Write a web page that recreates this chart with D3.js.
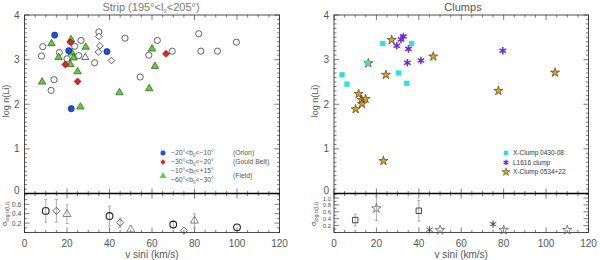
<!DOCTYPE html>
<html>
<head>
<meta charset="utf-8">
<script src="https://cdn.jsdelivr.net/npm/d3@7"></script>
<style>
  body { margin: 0; background: #fff; }
  svg { display: block; font-family: "Liberation Sans", Arial, sans-serif; }
</style>
</head>
<body>
<script>
// x axis ticks shared by all panels
const xTicks = [0, 20, 40, 60, 80, 100, 120];
const yMainTicks = [0, 1, 2, 3, 4];
const yLowTicksLeft = [0.2, 0.4, 0.6];
const yLowTicksRight = [0.2, 0.4, 0.6, 0.8, 1.0];

// ---- left panel: strip ----
const openCircV = [8.6, 8.0, 16.4, 23.6, 26.6, 25.5, 20, 13.9, 12.5, 33, 35, 47.3, 54.4, 58.5, 62.5, 69.5, 82, 83, 90.8, 99.7];
const openCircL = [3.29, 3.08, 3.16, 3.30, 3.43, 3.09, 3.02, 2.55, 2.31, 2.93, 3.62, 3.48, 2.61, 3.10, 3.43, 3.19, 3.58, 3.19, 3.19, 3.39];
const openDiamV = [35, 35.5, 34.8, 40.9];
const openDiamL = [3.52, 3.31, 3.17, 2.98];
const openTriV = [28.6];
const openTriL = [3.05];
const fieldV = [12.7, 21.9, 28.8, 16.1, 22.3, 23.1, 21.6, 25.0, 8.3, 44.7, 26.3, 60, 61.4, 58.7];
const fieldL = [3.36, 3.45, 3.28, 3.05, 3.15, 3.04, 2.89, 2.73, 2.50, 2.26, 1.94, 3.24, 2.85, 2.35];
const gouldV = [21.6, 19.2, 25.0, 66.6];
const gouldL = [3.39, 2.89, 2.51, 3.13];
const orionV = [14.2, 20.8, 38.8, 22.0];
const orionL = [3.55, 3.20, 3.18, 1.90];

// left lower panel: sigma of log n(Li)
const sigCircV = [10, 40, 70, 100];
const sigCirc = [0.46, 0.35, 0.17, 0.11];
const sigCircErr = [0.24, 0.21, 0.07, 0];
const sigDiamV = [15, 45, 75];
const sigDiam = [0.46, 0.21, 0.04];
const sigDiamErr = [0.24, 0.10, 0];
const sigTriV = [20, 50, 80];
const sigTri = [0.39, 0.06, 0.25];
const sigTriErr = [0.20, 0, 0.15];

// ---- right panel: clumps ----
const cyanV = [23, 36.6, 15.7, 3.8, 6.1, 30.5, 34.3];
const cyanL = [3.36, 3.36, 2.92, 2.66, 2.45, 2.70, 2.47];
const purpV = [32.7, 31.6, 29.6, 35.1, 34.6, 41, 79.6];
const purpL = [3.52, 3.45, 3.31, 3.24, 2.93, 2.98, 3.20];
const starV = [27.2, 16.2, 46.8, 24.5, 11.6, 13, 14.9, 13.2, 10.2, 104.2, 77.5, 23.3];
const starL = [3.44, 2.92, 3.07, 2.66, 2.23, 2.10, 2.12, 2.01, 1.89, 2.71, 2.30, 0.73];

const sqLowV = [10, 40];
const sqLow = [0.36, 0.63];
const sqLowErr = [0.17, 0.30];
const starLowV = [20, 50, 80, 110];
const starLow = [0.70, 0.07, 0.07, 0.07];
const starLowErr = [0.35, 0, 0, 0];
const astLowV = [45, 75];
const astLow = [0.08, 0.24];
const astLowErr = [0, 0.05];

const svg = d3.select("body").append("svg")
  .attr("width", 600).attr("height", 260);

const axisColor = "#222";
const textColor = "#555";

function zip(a, b, c) { return a.map((v, i) => ({ v: v, y: b[i], e: c ? c[i] : 0 })); }

// draws a frame with inward ticks on all four sides
function frame(x, y, xMinor, yMajor, yMinor, showX) {
  const [x0, x1] = x.range();
  const [yb, yt] = y.range();
  const g = svg.append("g");
  g.append("rect").attr("x", x0).attr("y", yt).attr("width", x1 - x0).attr("height", yb - yt)
    .attr("fill", "none").attr("stroke", axisColor).attr("stroke-width", 0.8);
  xMinor.forEach(t => {
    const len = xTicks.includes(t) ? 5 : 2.5;
    g.append("line").attr("x1", x(t)).attr("x2", x(t)).attr("y1", yb).attr("y2", yb - len).attr("stroke", axisColor).attr("stroke-width", 0.6);
    g.append("line").attr("x1", x(t)).attr("x2", x(t)).attr("y1", yt).attr("y2", yt + len).attr("stroke", axisColor).attr("stroke-width", 0.6);
  });
  yMinor.forEach(t => {
    const len = yMajor.some(m => Math.abs(m - t) < 1e-6) ? 5 : 2.5;
    g.append("line").attr("x1", x0).attr("x2", x0 + len).attr("y1", y(t)).attr("y2", y(t)).attr("stroke", axisColor).attr("stroke-width", 0.6);
    g.append("line").attr("x1", x1).attr("x2", x1 - len).attr("y1", y(t)).attr("y2", y(t)).attr("stroke", axisColor).attr("stroke-width", 0.6);
  });
  if (showX) {
    xTicks.forEach(t => {
      g.append("text").attr("x", x(t)).attr("y", yb + 14).attr("text-anchor", "middle")
        .attr("font-size", 10).attr("fill", textColor).text(t);
    });
  }
  return g;
}

function sym(type, size) { return d3.symbol().type(type).size(size)(); }

// rotate square symbol to get a regular diamond
function scatter(x, y, data, type, size, fill, stroke, sw, rot) {
  svg.append("g").selectAll("path").data(data).enter().append("path")
    .attr("d", sym(type, size))
    .attr("transform", d => `translate(${x(d.v)},${y(d.y)})` + (rot ? ` rotate(${rot})` : ""))
    .attr("fill", fill).attr("stroke", stroke).attr("stroke-width", sw);
}

function errs(x, y, data) {
  const top = y.domain()[1] - 0.01;
  const ok = data.filter(d => d.e > 0);
  svg.append("g").selectAll("line").data(ok).enter().append("line")
    .attr("x1", d => x(d.v)).attr("x2", d => x(d.v))
    .attr("y1", d => y(d.y - d.e)).attr("y2", d => y(Math.min(d.y + d.e, top)))
    .attr("stroke", "#999").attr("stroke-width", 0.8);
  svg.append("g").selectAll("line").data(ok.flatMap(d => [d.y - d.e, Math.min(d.y + d.e, top)].map(yy => ({ v: d.v, y: yy })))).enter().append("line")
    .attr("x1", d => x(d.v) - 1.5).attr("x2", d => x(d.v) + 1.5)
    .attr("y1", d => y(d.y)).attr("y2", d => y(d.y))
    .attr("stroke", "#999").attr("stroke-width", 0.8);
}

function panel(xr, lowDomain, lowTicks, lowFs) {
  const x = d3.scaleLinear().domain([0, 120]).range(xr);
  const yMain = d3.scaleLinear().domain([0, 4]).range([193.5, 15]);
  const yLow = d3.scaleLinear().domain(lowDomain).range([232.5, 193.5]);
  const xMinor = d3.range(0, 121, 5);
  frame(x, yMain, xMinor, yMainTicks, d3.range(0, 4.001, 0.1), false);
  frame(x, yLow, xMinor, lowTicks, d3.range(0, lowDomain[1], 0.1), true);
  // separator
  svg.append("line").attr("x1", xr[0]).attr("x2", xr[1]).attr("y1", 193.5).attr("y2", 193.5)
    .attr("stroke", "#000").attr("stroke-width", 1.3);
  yMainTicks.forEach(t => {
    svg.append("text").attr("x", xr[0] - 5).attr("y", yMain(t) + (t === 0 ? 0 : 3.5)).attr("text-anchor", "end")
      .attr("font-size", 10).attr("fill", textColor).text(t);
  });
  lowTicks.forEach(t => {
    svg.append("text").attr("x", xr[0] - 3).attr("y", yLow(t) + lowFs * 0.35 + (t === 1 ? 0.8 : 0)).attr("text-anchor", "end")
      .attr("font-size", lowFs).attr("fill", textColor).text(t.toFixed(1));
  });
  // axis labels
  const cx = (xr[0] + xr[1]) / 2;
  svg.append("text").attr("x", cx).attr("y", 258).attr("text-anchor", "middle")
    .attr("font-size", 10).attr("fill", textColor).text("v sini (km/s)");
  svg.append("text").attr("transform", `translate(${xr[0] - 16},101) rotate(-90)`).attr("text-anchor", "middle")
    .attr("font-size", 9).attr("fill", textColor).text("log n(Li)");
  const sl = svg.append("text").attr("transform", `translate(${xr[0] - 18},214) rotate(-90)`).attr("text-anchor", "middle")
    .attr("font-size", 5.5).attr("fill", textColor);
  sl.append("tspan").attr("font-size", 7).text("σ");
  sl.append("tspan").attr("dy", 2).text("log n(Li)");
  return { x, yMain, yLow };
}

// ---- left ----
const L = panel([24.5, 279.5], [0, 0.83], yLowTicksLeft, 7);
scatter(L.x, L.yMain, zip(openCircV, openCircL), d3.symbolCircle, 30, "#fff", "#222", 0.7);
scatter(L.x, L.yMain, zip(openDiamV, openDiamL), d3.symbolSquare, 22, "#fff", "#222", 0.7, 45);
scatter(L.x, L.yMain, zip(openTriV, openTriL), d3.symbolTriangle, 22, "#fff", "#222", 0.7);
scatter(L.x, L.yMain, zip(fieldV, fieldL), d3.symbolTriangle, 24, "#5fcf3a", "#1a3a10", 0.6);
scatter(L.x, L.yMain, zip(gouldV, gouldL), d3.symbolSquare, 24, "#e8231c", "#5a0a08", 0.6, 45);
scatter(L.x, L.yMain, zip(orionV, orionL), d3.symbolCircle, 30, "#1f4fe0", "#0a1a60", 0.6);

errs(L.x, L.yLow, zip(sigCircV, sigCirc, sigCircErr));
errs(L.x, L.yLow, zip(sigDiamV, sigDiam, sigDiamErr));
errs(L.x, L.yLow, zip(sigTriV, sigTri, sigTriErr));
scatter(L.x, L.yLow, zip(sigCircV, sigCirc), d3.symbolCircle, 36, "none", "#222", 1.1);
scatter(L.x, L.yLow, zip(sigDiamV, sigDiam), d3.symbolSquare, 26, "none", "#555", 0.9, 45);
scatter(L.x, L.yLow, zip(sigTriV, sigTri), d3.symbolTriangle, 28, "none", "#666", 0.8);

// title
const t1 = svg.append("text").attr("x", 151).attr("y", 11).attr("text-anchor", "middle")
  .attr("font-size", 11).attr("fill", "#777");
t1.append("tspan").text("Strip (195°<l");
t1.append("tspan").attr("font-size", 6).attr("dy", 2).text("II");
t1.append("tspan").attr("dy", -2).text("<205°)");

// legend left
const legL = [
  { t: "−20°<b", t2: "<−10°", r: "(Orion)", y: 153, c: "#1f4fe0", s: d3.symbolCircle },
  { t: "−30°<b", t2: "<−20°", r: "(Gould Belt)", y: 162, c: "#e8231c", s: d3.symbolSquare, rot: 45 },
  { t: "−10°<b", t2: "<+15°", r: "", y: 170.5 },
  { t: "−60°<b", t2: "<−30°", r: "(Field)", y: 180, c: "#5fcf3a", s: d3.symbolTriangle, my: 176 }
];
legL.forEach(d => {
  if (d.c) {
    svg.append("path").attr("d", sym(d.s, d.rot ? 14 : 20))
      .attr("transform", `translate(163,${d.my || d.y})` + (d.rot ? " rotate(45)" : "")).attr("fill", d.c).attr("stroke", "none");
  }
  const tx = svg.append("text").attr("x", 171).attr("y", d.y + 2.2).attr("font-size", 6.8).attr("fill", textColor);
  tx.append("tspan").text(d.t);
  tx.append("tspan").attr("font-size", 4.5).attr("dy", 1.5).text("II");
  tx.append("tspan").attr("dy", -1.5).text(d.t2);
  if (d.r) svg.append("text").attr("x", 233).attr("y", (d.my || d.y) + 2.2).attr("font-size", 6.8).attr("fill", textColor).text(d.r);
});

// ---- right ----
const R = panel([334, 588.5], [0, 1.13], yLowTicksRight, 6);
scatter(R.x, R.yMain, zip(starV, starL), d3.symbolStar, 26, "#d4a52a", "#3a2a08", 0.6);
scatter(R.x, R.yMain, zip(cyanV, cyanL), d3.symbolSquare, 28, "#2fe0e0", "none", 0);
scatter(R.x, R.yMain, zip(purpV, purpL), d3.symbolAsterisk, 40, "none", "#6a2ad8", 1.5);

errs(R.x, R.yLow, zip(sqLowV, sqLow, sqLowErr));
errs(R.x, R.yLow, zip(starLowV, starLow, starLowErr));
errs(R.x, R.yLow, zip(astLowV, astLow, astLowErr));
scatter(R.x, R.yLow, zip(sqLowV, sqLow), d3.symbolSquare, 30, "none", "#333", 0.9);
scatter(R.x, R.yLow, zip(starLowV, starLow), d3.symbolStar, 28, "none", "#666", 0.8);
scatter(R.x, R.yLow, zip(astLowV, astLow), d3.symbolAsterisk, 40, "none", "#444", 0.9);

svg.append("text").attr("x", 463).attr("y", 11).attr("text-anchor", "middle")
  .attr("font-size", 11).attr("fill", "#555").text("Clumps");

const legR = [
  { t: "X-Clump 0430-08", y: 153, s: d3.symbolSquare, st: "none", f: "#2fe0e0" },
  { t: "L1616 clump", y: 162.5, s: d3.symbolAsterisk, st: "#6a2ad8", f: "none" },
  { t: "X-Clump 0534+22", y: 172, s: d3.symbolStar, st: "#3a2a08", f: "#d4a52a" }
];
legR.forEach(d => {
  svg.append("path").attr("d", sym(d.s, 20)).attr("transform", `translate(506,${d.y})`)
    .attr("fill", d.f).attr("stroke", d.st).attr("stroke-width", d.s === d3.symbolAsterisk ? 1.3 : 0.5);
  svg.append("text").attr("x", 513).attr("y", d.y + 2.2).attr("font-size", 6.5).attr("fill", "#333").text(d.t);
});
</script>
</body>
</html>
